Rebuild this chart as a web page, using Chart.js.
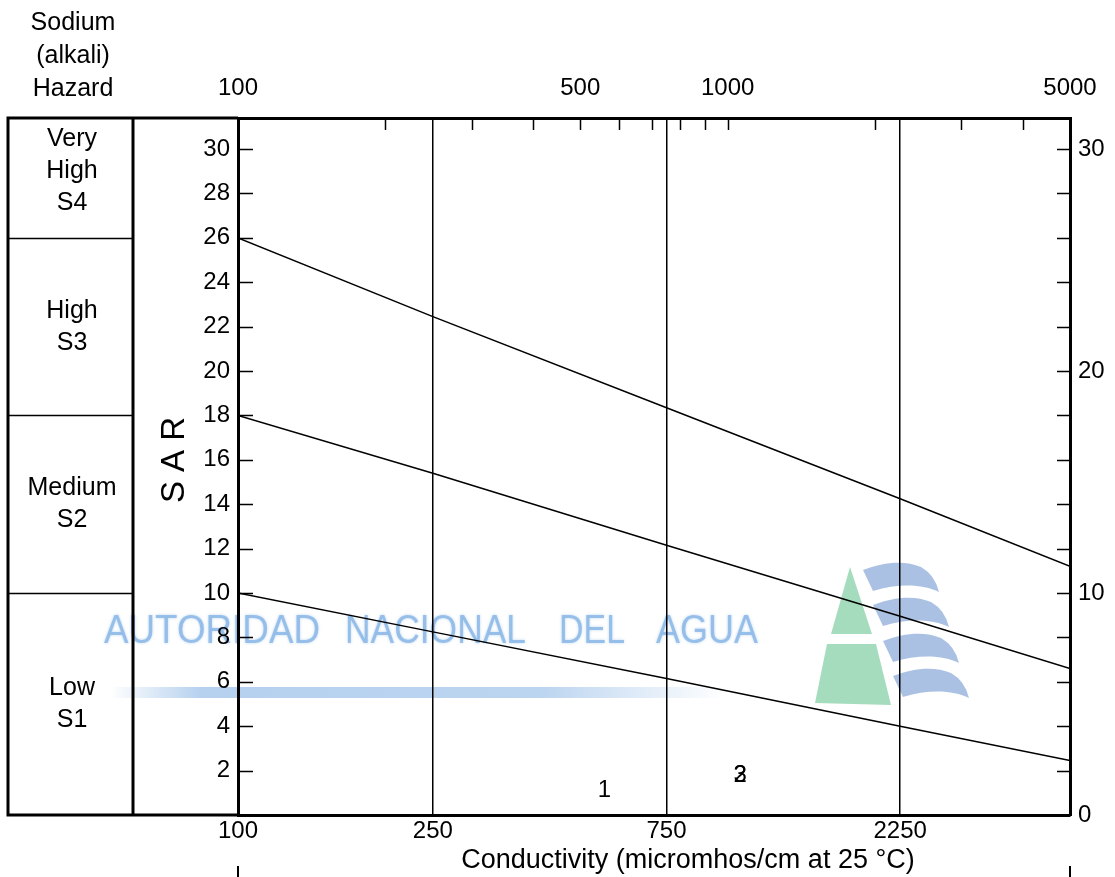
<!DOCTYPE html>
<html>
<head>
<meta charset="utf-8">
<title>Sodium (alkali) hazard - SAR diagram</title>
<script src="https://cdn.jsdelivr.net/npm/chart.js@4.4.1/dist/chart.umd.min.js"></script>
<style>
  body { margin: 0; background: #fff; }
  #wrap { width: 1115px; height: 877px; }
</style>
</head>
<body>
<div id="wrap"><canvas id="sar-chart" width="1115" height="877"></canvas></div>
<script>
// class boundaries, read at the vertical grid lines
const conductivity = [100, 250, 750, 2250, 5000];
const boundaryS4 = [26, 22.45, 18.35, 14.25, 11.2];
const boundaryS3 = [18, 15.4, 12.15, 8.95, 6.6];
const boundaryS2 = [10, 8.25, 6.15, 4.0, 2.45];

// plotted samples
const sampleIds = ["1", "2", "3"];
const sampleEC = [560, 1060, 1060];
const sampleSAR = [1.1, 1.8, 1.8];

// axes
const bottomTicks = [100, 250, 750, 2250];
const topTicks = [100, 200, 300, 400, 500, 600, 700, 800, 900, 1000, 2000, 3000, 4000, 5000];
const topLabels = [100, 500, 1000, 5000];
const sarTicks = [2, 4, 6, 8, 10, 12, 14, 16, 18, 20, 22, 24, 26, 28, 30];
const rightTicks = [0, 2, 4, 6, 8, 10, 12, 14, 16, 18, 20, 22, 24, 26, 28, 30];
const rightLabels = [0, 10, 20, 30];
const SAR_MAX = 31.4;

// hazard classes (left panel)
const hazardNames = [["Low", "S1"], ["Medium", "S2"], ["High", "S3"], ["Very", "High", "S4"]];
const hazardLimits = [0, 10, 18, 26, 32];

const FONT = "'Liberation Sans', Arial, sans-serif";
Chart.defaults.font.family = FONT;
Chart.defaults.color = "#000";

function toPoints(ys) {
  return conductivity.map((x, i) => ({ x: x, y: ys[i] }));
}

function drawWatermark(ctx) {
  ctx.save();
  // text
  ctx.fillStyle = "rgba(130,178,228,0.75)";
  ctx.font = "41px " + FONT;
  ctx.textBaseline = "alphabetic";
  ctx.shadowColor = "rgba(130,178,228,0.7)";
  ctx.shadowBlur = 3;
  ctx.fillText("AUTORIDAD", 104, 643, 216);
  ctx.fillText("NACIONAL", 345, 643, 181);
  ctx.fillText("DEL", 559, 643, 66);
  ctx.fillText("AGUA", 656, 643, 102);
  ctx.shadowBlur = 0;
  // fading bar
  const g = ctx.createLinearGradient(110, 0, 725, 0);
  g.addColorStop(0, "rgba(120,170,225,0)");
  g.addColorStop(0.15, "rgba(120,170,225,0.55)");
  g.addColorStop(0.7, "rgba(120,170,225,0.5)");
  g.addColorStop(1, "rgba(120,170,225,0)");
  ctx.fillStyle = g;
  ctx.fillRect(110, 687, 615, 11);
  // logo: green "A"
  ctx.fillStyle = "rgba(160,218,185,0.95)";
  ctx.beginPath();
  ctx.moveTo(850, 567);
  ctx.lineTo(872, 634);
  ctx.lineTo(831, 634);
  ctx.closePath();
  ctx.fill();
  ctx.beginPath();
  ctx.moveTo(827, 644);
  ctx.lineTo(876, 644);
  ctx.lineTo(891, 705);
  ctx.lineTo(815, 703);
  ctx.closePath();
  ctx.fill();
  // logo: blue waves
  ctx.fillStyle = "rgba(165,190,225,0.95)";
  [[863, 565], [873, 600], [883, 636], [893, 671]].forEach(function (p) {
    const L = p[0], T = p[1];
    ctx.beginPath();
    ctx.moveTo(L, T + 5);
    ctx.bezierCurveTo(L + 20, T - 3, L + 42, T - 5, L + 58, T + 2);
    ctx.quadraticCurveTo(L + 72, T + 10, L + 76, T + 27);
    ctx.bezierCurveTo(L + 60, T + 19, L + 36, T + 18, L + 10, T + 26);
    ctx.closePath();
    ctx.fill();
  });
  ctx.restore();
}

const diagramFrame = {
  id: "diagramFrame",
  beforeDraw(chart) {
    const ctx = chart.ctx;
    ctx.save();
    ctx.fillStyle = "#fff";
    ctx.fillRect(0, 0, chart.width, chart.height);
    ctx.restore();
    drawWatermark(ctx);
  },
  afterDraw(chart) {
    const ctx = chart.ctx;
    const area = chart.chartArea;
    const y = chart.scales.y;
    const x2 = chart.scales.x2;
    ctx.save();
    ctx.strokeStyle = "#000";
    ctx.fillStyle = "#000";

    // left panel frame
    ctx.lineWidth = 3;
    ctx.beginPath();
    ctx.moveTo(area.left, area.top);
    ctx.lineTo(8, area.top);
    ctx.lineTo(8, area.bottom);
    ctx.lineTo(area.left, area.bottom);
    ctx.moveTo(133, area.top);
    ctx.lineTo(133, area.bottom);
    ctx.stroke();

    // hazard class separators
    ctx.lineWidth = 1.5;
    ctx.beginPath();
    for (let i = 1; i < hazardLimits.length - 1; i++) {
      const py = Math.round(y.getPixelForValue(hazardLimits[i])) + 0.5;
      ctx.moveTo(8, py);
      ctx.lineTo(133, py);
    }
    ctx.stroke();

    // hazard labels
    ctx.font = "25px " + FONT;
    ctx.textAlign = "center";
    ctx.textBaseline = "middle";
    hazardNames.forEach(function (lines, i) {
      const mid = y.getPixelForValue((hazardLimits[i] + hazardLimits[i + 1]) / 2);
      const start = mid - (lines.length - 1) * 16;
      lines.forEach(function (t, j) {
        ctx.fillText(t, 72, start + j * 32);
      });
    });

    // panel header
    ["Sodium", "(alkali)", "Hazard"].forEach(function (t, j) {
      ctx.fillText(t, 73, 23 + j * 33);
    });

    // SAR title
    ctx.save();
    ctx.translate(175, 460);
    ctx.rotate(-Math.PI / 2);
    ctx.font = "33px " + FONT;
    ctx.fillText("S A R", 0, 0);
    ctx.restore();

    // inward ticks
    ctx.lineWidth = 1.5;
    ctx.beginPath();
    sarTicks.forEach(function (v) {
      const py = Math.round(y.getPixelForValue(v)) + 0.5;
      ctx.moveTo(area.left, py);
      ctx.lineTo(area.left + 15, py);
    });
    rightTicks.forEach(function (v) {
      if (v === 0) return;
      const py = Math.round(chart.scales.y2.getPixelForValue(v)) + 0.5;
      ctx.moveTo(area.right, py);
      ctx.lineTo(area.right - 13, py);
    });
    topTicks.forEach(function (v) {
      if (v === 100 || v === 5000) return;
      const px = Math.round(x2.getPixelForValue(v)) + 0.5;
      ctx.moveTo(px, area.top);
      ctx.lineTo(px, area.top + 12);
    });
    ctx.stroke();

    // sample numbers
    const meta = chart.getDatasetMeta(3);
    ctx.font = "24px " + FONT;
    meta.data.forEach(function (pt, i) {
      ctx.fillText(sampleIds[i], pt.x, pt.y);
    });

    // x title and end marks
    ctx.font = "27px " + FONT;
    ctx.fillText("Conductivity (micromhos/cm at 25 \u00B0C)", 688, 861);
    ctx.lineWidth = 2;
    ctx.beginPath();
    ctx.moveTo(area.left, 866);
    ctx.lineTo(area.left, 877);
    ctx.moveTo(area.right, 866);
    ctx.lineTo(area.right, 877);
    ctx.stroke();
    ctx.restore();
  }
};

const lineStyle = {
  borderColor: "#000",
  borderWidth: 1.5,
  pointRadius: 0,
  fill: false,
  tension: 0
};

new Chart(document.getElementById("sar-chart"), {
  type: "line",
  data: {
    datasets: [
      Object.assign({ label: "S3/S4", data: toPoints(boundaryS4) }, lineStyle),
      Object.assign({ label: "S2/S3", data: toPoints(boundaryS3) }, lineStyle),
      Object.assign({ label: "S1/S2", data: toPoints(boundaryS2) }, lineStyle),
      {
        type: "scatter",
        label: "Samples",
        data: sampleEC.map((x, i) => ({ x: x, y: sampleSAR[i] })),
        pointRadius: 0,
        showLine: false
      }
    ]
  },
  options: {
    responsive: false,
    animation: false,
    layout: { padding: 0 },
    plugins: {
      legend: { display: false },
      tooltip: { enabled: false }
    },
    scales: {
      x: {
        type: "logarithmic",
        position: "bottom",
        min: 100,
        max: 5000,
        afterBuildTicks: (s) => { s.ticks = bottomTicks.map((v) => ({ value: v })); },
        afterFit: (s) => { s.height = 62; },
        ticks: {
          font: { size: 24 },
          color: "#000",
          padding: 2,
          maxRotation: 0,
          autoSkip: false,
          callback: (v) => String(v)
        },
        grid: { color: "#000", lineWidth: 1.5, drawTicks: false },
        border: { color: "#000", width: 3 }
      },
      x2: {
        type: "logarithmic",
        position: "top",
        min: 100,
        max: 5000,
        afterBuildTicks: (s) => { s.ticks = topTicks.map((v) => ({ value: v })); },
        afterFit: (s) => { s.height = 118; },
        ticks: {
          font: { size: 24 },
          color: "#000",
          padding: 15,
          maxRotation: 0,
          autoSkip: false,
          callback: (v) => (topLabels.includes(v) ? String(v) : "")
        },
        grid: { display: false, drawTicks: false },
        border: { color: "#000", width: 3 }
      },
      y: {
        type: "linear",
        position: "left",
        min: 0,
        max: SAR_MAX,
        afterBuildTicks: (s) => { s.ticks = sarTicks.map((v) => ({ value: v })); },
        afterFit: (s) => { s.width = 238; },
        ticks: { font: { size: 24 }, color: "#000", padding: 8 },
        grid: { display: false, drawTicks: false },
        border: { color: "#000", width: 3 }
      },
      y2: {
        type: "linear",
        position: "right",
        min: 0,
        max: SAR_MAX,
        afterBuildTicks: (s) => { s.ticks = rightLabels.map((v) => ({ value: v })); },
        afterFit: (s) => { s.width = 45; },
        ticks: { font: { size: 24 }, color: "#000", padding: 8 },
        grid: { display: false, drawTicks: false },
        border: { color: "#000", width: 3 }
      }
    }
  },
  plugins: [diagramFrame]
});
</script>
</body>
</html>
